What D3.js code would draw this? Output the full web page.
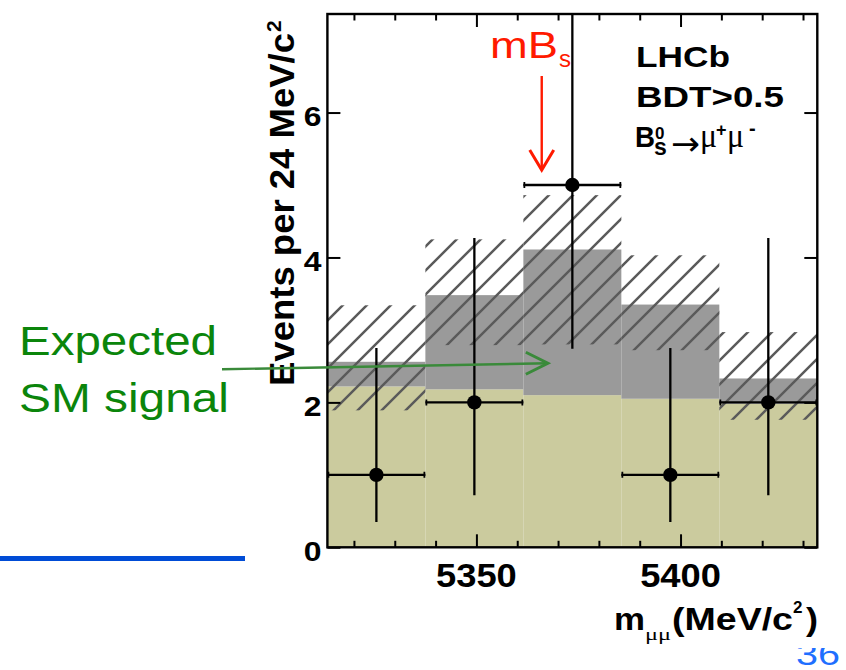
<!DOCTYPE html>
<html>
<head>
<meta charset="utf-8">
<script src="https://cdn.jsdelivr.net/npm/d3@7"></script>
<style>
  body { margin: 0; background: #fff; }
  svg { display: block; }
</style>
</head>
<body>
<svg id="chart" width="846" height="670"></svg>
<script>
// ---- data: Bs -> mu mu candidates, BDT > 0.5, 24 MeV/c^2 bins ----
const binEdges      = [5313.5, 5337.5, 5361.5, 5385.5, 5409.5, 5433.5];
const binCenters    = [5325.5, 5349.5, 5373.5, 5397.5, 5421.5];
const background    = [2.22, 2.18, 2.10, 2.05, 1.98];   // expected background
const expectedTotal = [2.56, 3.48, 4.11, 3.35, 2.33];   // background + SM signal
const bandUpper     = [3.34, 4.25, 4.86, 4.03, 2.97];   // expectation uncertainty, upper edge
const bandLower     = [1.89, 2.79, 2.80, 2.72, 1.76];   // expectation uncertainty, lower edge
const observed      = [1, 2, 5, 1, 2];
const errDown       = [0.65, 1.28, 2.26, 0.65, 1.28];
const errUp         = [1.75, 2.27, 3.38, 1.75, 2.27];
const xMajorTicks   = [5350, 5400];
const xMinorTicks   = [5320, 5330, 5340, 5360, 5370, 5380, 5390, 5410, 5420, 5430];
const yTicks        = [0, 2, 4, 6];
const massBs        = 5366.0;
const yMax          = 7.36;

const svg = d3.select("#chart");
const plot = { left: 327.4, right: 817.3, top: 14, bottom: 547.3 };

const x = d3.scaleLinear().domain([binEdges[0], binEdges[binEdges.length - 1]]).range([plot.left, plot.right]);
const y = d3.scaleLinear().domain([0, yMax]).range([plot.bottom, plot.top]);

const SANS = "'Liberation Sans', Arial, Helvetica, sans-serif";
const SERIF = "'Liberation Serif', 'DejaVu Serif', serif";
const SX = 1.14; // horizontal widening of labels

const defs = svg.append("defs");
defs.append("clipPath").attr("id", "plotClip")
  .append("rect")
  .attr("x", plot.left).attr("y", plot.top)
  .attr("width", plot.right - plot.left).attr("height", plot.bottom - plot.top);

const hatch = defs.append("pattern")
  .attr("id", "hatch").attr("patternUnits", "userSpaceOnUse")
  .attr("width", 24).attr("height", 24);
hatch.append("path")
  .attr("d", "M-6,6 L6,-6 M0,24 L24,0 M18,30 L30,18")
  .attr("stroke", "#5a5a5a").attr("stroke-width", 2.5).attr("fill", "none");

const bins = binCenters.map((c, i) => ({
  lo: binEdges[i], hi: binEdges[i + 1], c,
  bkg: background[i], tot: expectedTotal[i],
  bu: bandUpper[i], bl: bandLower[i],
  n: observed[i], ed: errDown[i], eu: errUp[i]
}));

const g = svg.append("g").attr("clip-path", "url(#plotClip)");

// background histogram
g.selectAll("rect.bkg").data(bins).enter().append("rect")
  .attr("class", "bkg")
  .attr("x", d => x(d.lo)).attr("width", d => x(d.hi) - x(d.lo))
  .attr("y", d => y(d.bkg)).attr("height", d => y(0) - y(d.bkg))
  .attr("fill", "#cbcb9e");

// SM signal stacked on top
g.selectAll("rect.sig").data(bins).enter().append("rect")
  .attr("class", "sig")
  .attr("x", d => x(d.lo)).attr("width", d => x(d.hi) - x(d.lo))
  .attr("y", d => y(d.tot)).attr("height", d => y(d.bkg) - y(d.tot))
  .attr("fill", "#9a9a9a");

// uncertainty band (hatched)
g.selectAll("rect.band").data(bins).enter().append("rect")
  .attr("class", "band")
  .attr("x", d => x(d.lo)).attr("width", d => x(d.hi) - x(d.lo))
  .attr("y", d => y(d.bu)).attr("height", d => y(d.bl) - y(d.bu))
  .attr("fill", "url(#hatch)");

// observed data with error bars
const pts = g.selectAll("g.pt").data(bins).enter().append("g").attr("class", "pt");
pts.append("line")
  .attr("x1", d => x(d.lo)).attr("x2", d => x(d.hi))
  .attr("y1", d => y(d.n)).attr("y2", d => y(d.n))
  .attr("stroke", "#000").attr("stroke-width", 2.3);
pts.append("line")
  .attr("x1", d => x(d.c)).attr("x2", d => x(d.c))
  .attr("y1", d => y(d.n - d.ed)).attr("y2", d => y(d.n + d.eu))
  .attr("stroke", "#000").attr("stroke-width", 2.3);
pts.append("path")
  .attr("d", d => `M${x(d.lo) + 1},${y(d.n) - 3}V${y(d.n) + 3}M${x(d.hi) - 1},${y(d.n) - 3}V${y(d.n) + 3}`)
  .attr("stroke", "#000").attr("stroke-width", 1.8);
pts.append("circle")
  .attr("cx", d => x(d.c)).attr("cy", d => y(d.n)).attr("r", 7.2)
  .attr("fill", "#000");

// axes: ticks point inwards on all four sides
function tickAxis(axis, transform) {
  const a = svg.append("g").attr("transform", transform).call(axis);
  a.select(".domain").remove();
  a.selectAll(".tick line").attr("stroke", "#000").attr("stroke-width", 2);
  a.selectAll(".tick text").remove();
  return a;
}
tickAxis(d3.axisBottom(x).tickValues(xMajorTicks).tickSize(-13), `translate(0,${plot.bottom})`);
tickAxis(d3.axisBottom(x).tickValues(xMinorTicks).tickSize(-6.5), `translate(0,${plot.bottom})`);
tickAxis(d3.axisTop(x).tickValues(xMajorTicks).tickSize(-13), `translate(0,${plot.top})`);
tickAxis(d3.axisTop(x).tickValues(xMinorTicks).tickSize(-6.5), `translate(0,${plot.top})`);
tickAxis(d3.axisLeft(y).tickValues(yTicks).tickSize(-13), `translate(${plot.left},0)`);
tickAxis(d3.axisRight(y).tickValues(yTicks).tickSize(-13), `translate(${plot.right},0)`);

svg.append("rect")
  .attr("x", plot.left).attr("y", plot.top)
  .attr("width", plot.right - plot.left).attr("height", plot.bottom - plot.top)
  .attr("fill", "none").attr("stroke", "#000").attr("stroke-width", 2.4);

// tick labels
svg.append("g").selectAll("text").data(xMajorTicks).enter().append("text")
  .attr("transform", d => `translate(${x(d)},${587}) scale(1.1,1)`)
  .attr("text-anchor", "middle")
  .attr("font-family", SANS).attr("font-weight", "bold").attr("font-size", 33)
  .text(d => d);
svg.append("g").selectAll("text").data(yTicks).enter().append("text")
  .attr("transform", d => `translate(${plot.left - 6},${y(d) + 13.8}) scale(${SX},1)`)
  .attr("text-anchor", "end")
  .attr("font-family", SANS).attr("font-weight", "bold").attr("font-size", 28)
  .text(d => d);

// axis titles
const yTitle = svg.append("text")
  .attr("transform", "translate(294,386) rotate(-90)")
  .attr("font-family", SANS).attr("font-weight", "bold");
yTitle.append("tspan").attr("x", 0).attr("y", 0).attr("font-size", 35)
  .attr("textLength", 353).attr("lengthAdjust", "spacingAndGlyphs")
  .text("Events per 24 MeV/c");
yTitle.append("tspan").attr("x", 354).attr("y", -13).attr("font-size", 21).text("2");

const xt = svg.append("text").attr("font-family", SANS).attr("font-weight", "bold");
xt.append("tspan").attr("x", 614).attr("y", 630).attr("font-size", 31)
  .attr("textLength", 31).attr("lengthAdjust", "spacingAndGlyphs").text("m");
xt.append("tspan").attr("x", 645).attr("y", 640).attr("font-size", 17)
  .attr("font-family", SERIF).attr("font-weight", "normal")
  .attr("textLength", 26).attr("lengthAdjust", "spacingAndGlyphs").text("μμ");
xt.append("tspan").attr("x", 672).attr("y", 630).attr("font-size", 31)
  .attr("textLength", 121).attr("lengthAdjust", "spacingAndGlyphs").text("(MeV/c");
xt.append("tspan").attr("x", 793).attr("y", 613).attr("font-size", 17).text("2");
xt.append("tspan").attr("x", 806).attr("y", 630).attr("font-size", 31)
  .attr("textLength", 12).attr("lengthAdjust", "spacingAndGlyphs").text(")");

// experiment / selection label
const lab = svg.append("g").attr("font-family", SANS).attr("font-weight", "bold").attr("fill", "#000");
lab.append("text").attr("x", 636).attr("y", 66.7).attr("font-size", 30)
  .attr("textLength", 94).attr("lengthAdjust", "spacingAndGlyphs").text("LHCb");
lab.append("text").attr("x", 636).attr("y", 106.7).attr("font-size", 30)
  .attr("textLength", 148).attr("lengthAdjust", "spacingAndGlyphs").text("BDT>0.5");
const decay = lab.append("text");
decay.append("tspan").attr("x", 635).attr("y", 147).attr("font-size", 30)
  .attr("textLength", 20).attr("lengthAdjust", "spacingAndGlyphs").text("B");
decay.append("tspan").attr("x", 655).attr("y", 139).attr("font-size", 17).text("0");
decay.append("tspan").attr("x", 654).attr("y", 155).attr("font-size", 23).text("s");
decay.append("tspan").attr("x", 671).attr("y", 155).attr("font-size", 33)
  .attr("font-family", "'DejaVu Sans', sans-serif").attr("font-weight", "normal")
  .attr("textLength", 29).attr("lengthAdjust", "spacingAndGlyphs").text("→");
decay.append("tspan").attr("x", 700).attr("y", 147).attr("font-size", 34)
  .attr("font-family", SERIF).attr("font-weight", "normal")
  .attr("textLength", 17).attr("lengthAdjust", "spacingAndGlyphs").text("μ");
decay.append("tspan").attr("x", 716).attr("y", 136).attr("font-size", 18).text("+");
decay.append("tspan").attr("x", 727).attr("y", 147).attr("font-size", 34)
  .attr("font-family", SERIF).attr("font-weight", "normal")
  .attr("textLength", 17).attr("lengthAdjust", "spacingAndGlyphs").text("μ");
decay.append("tspan").attr("x", 749).attr("y", 135).attr("font-size", 20).text("-");

// Bs mass marker
const red = "#ff1a00";
const mb = svg.append("text").attr("font-family", SANS).attr("fill", red);
mb.append("tspan").attr("x", 490).attr("y", 58.3).attr("font-size", 36)
  .attr("textLength", 68).attr("lengthAdjust", "spacingAndGlyphs").text("mB");
mb.append("tspan").attr("x", 559).attr("y", 67).attr("font-size", 24).text("s");
const mx = x(massBs);
svg.append("line").attr("x1", mx).attr("x2", mx).attr("y1", 76).attr("y2", 169)
  .attr("stroke", red).attr("stroke-width", 2.4);
svg.append("path").attr("d", `M${mx - 12},${150}L${mx},${170}L${mx + 12},${150}`)
  .attr("fill", "none").attr("stroke", red).attr("stroke-width", 3).attr("stroke-linejoin", "miter");

// expected SM signal annotation
const green = "#0b850b";
svg.append("text").attr("x", 19).attr("y", 355)
  .attr("font-family", SANS).attr("font-size", 41).attr("fill", green)
  .attr("textLength", 198).attr("lengthAdjust", "spacingAndGlyphs").text("Expected");
svg.append("text").attr("x", 19).attr("y", 411.7)
  .attr("font-family", SANS).attr("font-size", 41).attr("fill", green)
  .attr("textLength", 210).attr("lengthAdjust", "spacingAndGlyphs").text("SM signal");
const tipX = x(5367.5), tipY = y(2.54);
svg.append("line").attr("x1", 222).attr("y1", 369.3).attr("x2", tipX).attr("y2", tipY)
  .attr("stroke", "#3a8a3a").attr("stroke-width", 2.4);
svg.append("path").attr("d", `M${tipX - 22},${tipY - 11}L${tipX},${tipY}L${tipX - 22},${tipY + 11}`)
  .attr("fill", "none").attr("stroke", "#3a8a3a").attr("stroke-width", 3);

// slide decoration: rule and page number
svg.append("rect").attr("x", 0).attr("y", 556).attr("width", 245).attr("height", 5).attr("fill", "#004cd6");
defs.append("clipPath").attr("id", "pageClip")
  .append("rect").attr("x", 780).attr("y", 648).attr("width", 66).attr("height", 22);
svg.append("text").attr("x", 796).attr("y", 665).attr("clip-path", "url(#pageClip)")
  .attr("font-family", SANS).attr("font-size", 32).attr("fill", "#1f6fff")
  .attr("textLength", 44).attr("lengthAdjust", "spacingAndGlyphs").text("36");
</script>
</body>
</html>
